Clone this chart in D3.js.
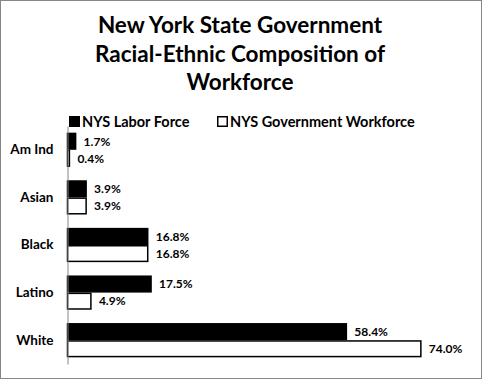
<!DOCTYPE html>
<html>
<head>
<meta charset="utf-8">
<script src="https://cdn.jsdelivr.net/npm/d3@7"></script>
<style>
  body { margin: 0; background: #fff; }
  text { font-family: Lato, "Open Sans", sans-serif; font-weight: bold; fill: #000; }
</style>
</head>
<body>
<script>
// chart data
var categories = ["Am Ind", "Asian", "Black", "Latino", "White"];
var seriesNames = ["NYS Labor Force", "NYS Government Workforce"];
var laborForce = [1.7, 3.9, 16.8, 17.5, 58.4];
var govWorkforce = [0.4, 3.9, 16.8, 4.9, 74.0];
var titleLines = ["New York State Government", "Racial-Ethnic Composition of", "Workforce"];

var width = 482,
    height = 379;

var svg = d3.select("body").append("svg")
    .attr("width", width)
    .attr("height", height);

// outer frame
svg.append("rect")
    .attr("x", 0.5)
    .attr("y", 0.5)
    .attr("width", width - 1)
    .attr("height", height - 1)
    .attr("fill", "#fff")
    .attr("stroke", "#868686");

// title
svg.append("g").selectAll("text")
    .data(titleLines)
    .enter()
    .append("text")
    .attr("x", 240)
    .attr("y", (d, i) => 33 + i * 28.5)
    .attr("text-anchor", "middle")
    .style("font-size", "22.5px")
    .text(d => d);

var x = d3.scaleLinear().domain([0, 80]).range([67.5, 449.5]);
var y = d3.scaleBand().domain(categories).range([126, 364]).paddingInner(0.28).paddingOuter(0.14);
var sub = d3.scaleBand().domain(seriesNames).range([0, y.bandwidth()]);

var rows = categories.map((c, i) => ({cat: c, vals: [laborForce[i], govWorkforce[i]]}));

var groups = svg.append("g").selectAll("g")
    .data(rows)
    .enter()
    .append("g")
    .attr("transform", d => "translate(0," + y(d.cat) + ")");

groups.selectAll("rect")
    .data(d => d.vals.map((v, j) => ({v: v, s: seriesNames[j]})))
    .enter()
    .append("rect")
    .attr("x", x(0))
    .attr("y", d => sub(d.s) + 0.75)
    .attr("width", d => x(d.v) - x(0))
    .attr("height", sub.bandwidth() - 1.5)
    .attr("fill", d => d.s === seriesNames[0] ? "#000" : "#fff")
    .attr("stroke", "#000")
    .attr("stroke-width", 1.5);

// value labels
groups.selectAll("text")
    .data(d => d.vals.map((v, j) => ({v: v, s: seriesNames[j]})))
    .enter()
    .append("text")
    .attr("x", d => x(d.v) + 8)
    .attr("y", d => sub(d.s) + sub.bandwidth() / 2)
    .attr("dy", "0.36em")
    .style("font-size", "12px")
    .text(d => d.v.toFixed(1) + "%");

// category axis
var yAxis = svg.append("g")
    .attr("transform", "translate(" + x(0) + ",0)")
    .call(d3.axisLeft(y).tickSize(0).tickPadding(14));
yAxis.select(".domain").attr("stroke", "#868686");
yAxis.selectAll("text")
    .style("font-size", "13.5px")
    .style("font-family", "Lato, sans-serif")
    .attr("fill", "#000");

// legend
var legend = svg.append("g").selectAll("g")
    .data(seriesNames)
    .enter()
    .append("g")
    .attr("transform", (d, i) => "translate(" + [69, 217][i] + ",116)");

legend.append("rect")
    .attr("x", 0.75)
    .attr("y", 0.75)
    .attr("width", 9.5)
    .attr("height", 9.5)
    .attr("fill", (d, i) => i === 0 ? "#000" : "#fff")
    .attr("stroke", "#000")
    .attr("stroke-width", 1.5);

legend.append("text")
    .attr("x", 13)
    .attr("y", 10.5)
    .style("font-size", "14.5px")
    .text(d => d);
</script>
</body>
</html>
